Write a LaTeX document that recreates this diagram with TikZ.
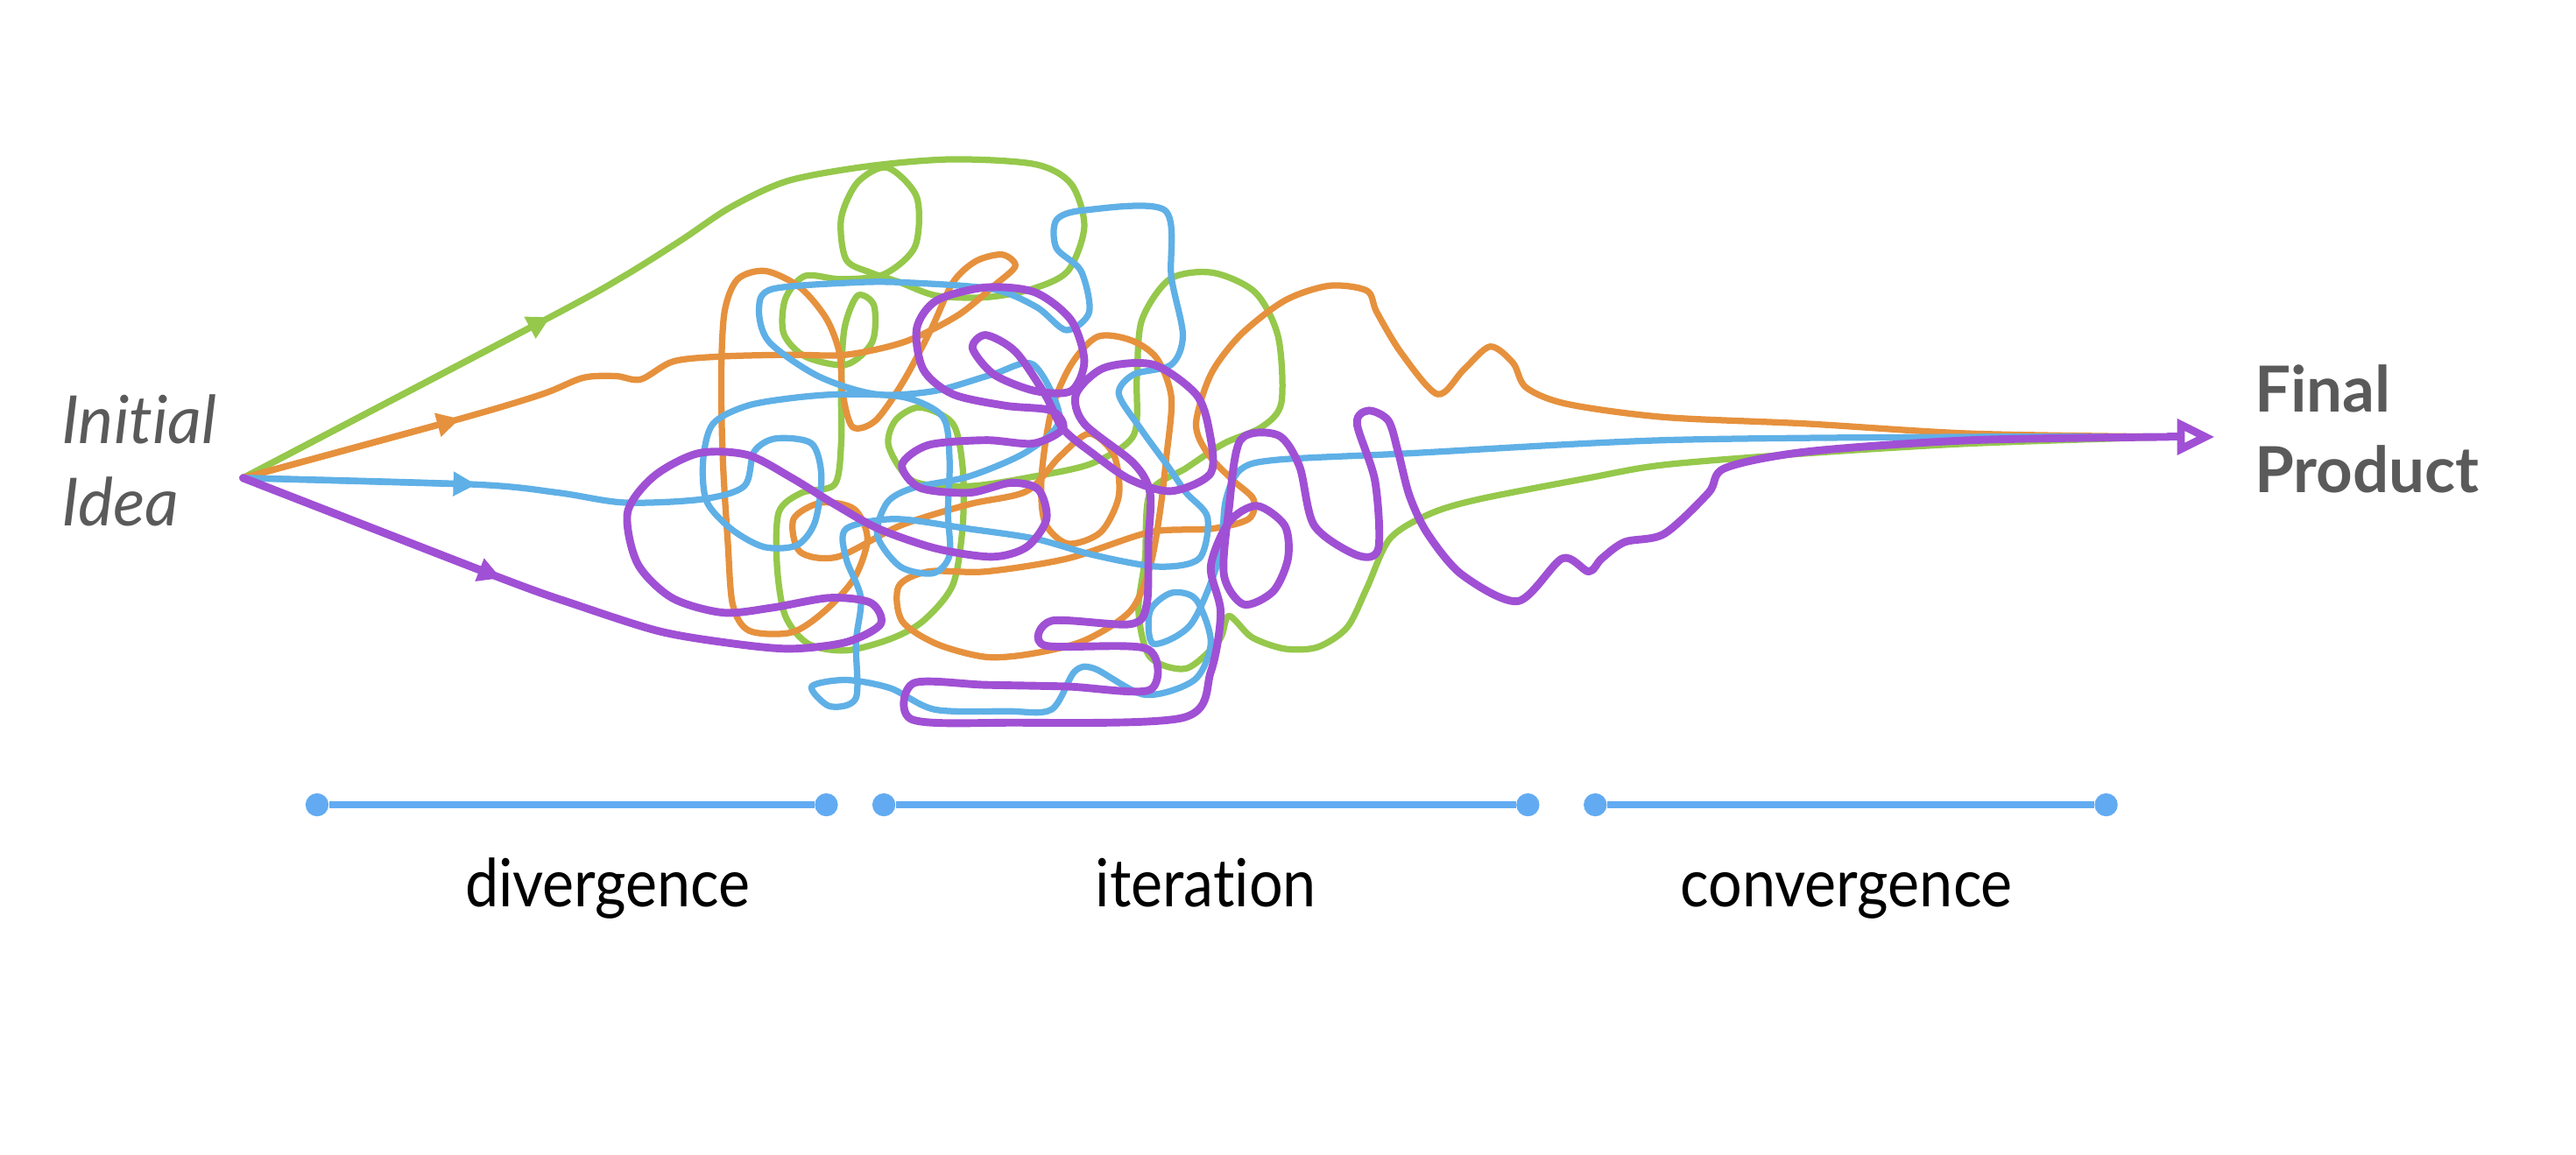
\documentclass[tikz,border=0pt]{standalone}
\usepackage{fontspec}
\setmainfont{Lato}[Ligatures=NoCommon]
\newfontfamily\narrowfont{Lato}[FakeStretch=0.9, Ligatures=NoCommon]
\usetikzlibrary{arrows.meta}
\definecolor{scribgreen}{HTML}{95C84B}
\definecolor{scriborange}{HTML}{E6913D}
\definecolor{scribblue}{HTML}{5FB0E6}
\definecolor{scribpurple}{HTML}{A050D4}
\definecolor{phaseblue}{HTML}{62ABF2}
\definecolor{labelgray}{HTML}{5A5A5A}
\begin{document}
\begin{tikzpicture}[x=0.02cm,y=-0.02cm,
    scribble/.style={line width=2.2pt, line cap=round, line join=round},
    thickscribble/.style={line width=2.7pt, line cap=round, line join=round},
    legtip/.style={-{Triangle[length=8pt,width=8pt]}},
    dot/.style={circle, fill=phaseblue, inner sep=0pt, minimum size=8pt},
    phaseline/.style={draw=phaseblue, line width=2.3pt},
    phaselabel/.style={font=\narrowfont\fontsize{23}{26}\selectfont, anchor=base},
    startlabel/.style={font=\itshape\fontsize{23}{26}\selectfont, text=labelgray, anchor=base west, inner sep=0pt},
    endlabel/.style={font=\bfseries\fontsize{22}{26}\selectfont, text=labelgray, anchor=base west, inner sep=0pt}]
  \useasboundingbox (0,0) rectangle (1568,703);

  \coordinate (idea) at (148,291);
  \coordinate (merge) at (1320,266);
  \coordinate (product) at (1348,266);

  \node[startlabel] (initial) at (37,270) {Initial};
  \node[startlabel] (ideaword) at (37,320) {Idea};
  \node[endlabel] (final) at (1372,251) {Final};
  \node[endlabel] (productword) at (1372,300) {Product};

  % green
  \draw[scribble, scribgreen] plot[smooth] coordinates {(idea) (335,193) (380,168) (415,146) (445,126)
    (480,110) (530,101) (580,97) (630,100) (652,112) (660,138) (650,165) (628,176) (600,181) (570,180)
    (548,172) (530,166) (515,158) (512,133) (522,111) (540,102) (558,120) (557,150) (538,167) (512,170)
    (490,168) (478,182) (477,203) (490,217) (515,222) (531,208) (532,186) (522,180) (514,200) (512,235)
    (512,270) (508,295) (488,300) (474,312) (473,345) (478,375) (492,392) (515,396) (542,389) (562,378)
    (580,356) (586,320) (586,285) (580,258) (560,248) (545,256) (541,272) (556,293) (590,296) (630,290)
    (665,282) (690,265) (692,230) (695,195) (712,170) (738,166) (764,178) (778,205) (780,245) (768,260)
    (745,270) (722,285) (700,300) (697,340) (693,372) (700,400) (722,407) (742,390) (748,375) (762,388)
    (782,395) (802,394) (820,382) (832,358) (846,328) (870,313) (900,304) (967,291) (1013,283)
    (1100,276) (1200,270) (merge)};
  \draw[scribble, scribgreen, legtip] (idea) -- (335,193);

  % orange
  \draw[scribble, scriborange] plot[smooth] coordinates {(idea) (280,255) (330,240) (355,230) (375,229)
    (390,231) (410,220) (440,217) (480,216) (515,216) (551,208) (583,192) (605,174) (618,162) (610,155)
    (594,159) (580,172) (567,200) (550,232) (533,256) (519,260) (513,240) (511,215) (503,194) (487,175)
    (466,165) (449,170) (441,190) (439,230) (440,280) (443,330) (446,368) (456,384) (482,385) (502,372)
    (520,352) (528,328) (520,310) (500,306) (483,316) (487,336) (510,339) (548,320) (590,307) (625,299)
    (645,278) (663,264) (678,277) (681,302) (670,324) (650,331) (636,318) (634,290) (640,250) (652,222)
    (668,205) (688,207) (704,218) (713,242) (710,278) (706,312) (700,345) (688,372) (660,390) (628,398)
    (600,400) (570,392) (549,378) (547,357) (565,348) (600,348) (650,340) (700,324) (737,322) (760,316)
    (763,304) (750,292) (735,276) (728,258) (737,228) (755,204) (782,183) (809,174) (832,177) (838,190)
    (853,215) (875,240) (891,225) (907,211) (921,221) (929,236) (954,246) (1013,254) (1100,258)
    (1200,264) (merge)};
  \draw[scribble, scriborange, legtip] (idea) -- (280,255);

  % blue
  \draw[scribble, scribblue] plot[smooth] coordinates {(idea) (290,295) (340,300) (380,306) (427,304)
    (453,296) (459,275) (472,267) (494,270) (500,290) (496,318) (485,332) (465,333) (445,322) (430,305)
    (428,280) (434,258) (455,247) (485,242) (515,240) (551,242) (574,254) (578,280) (577,312) (578,338)
    (568,349) (548,345) (534,326) (540,306) (556,297) (590,290) (625,275) (645,255) (629,222) (604,228)
    (569,238) (533,240) (498,229) (468,208) (462,188) (470,176) (520,172) (551,172) (604,176) (631,187)
    (649,201) (663,190) (658,165) (643,151) (643,134) (660,128) (709,128) (713,169) (720,204) (713,222)
    (690,228) (681,240) (695,262) (711,284) (722,300) (735,315) (730,340) (705,345) (666,338) (630,328)
    (590,322) (545,316) (515,322) (515,340) (524,364) (521,391) (521,425) (505,430) (494,418) (515,414)
    (542,419) (569,432) (613,433) (640,432) (654,409) (666,407) (697,423) (727,414) (737,391) (728,365)
    (713,361) (700,372) (702,392) (725,380) (742,340) (746,305) (755,286) (777,280) (858,276)
    (1013,268) (1200,266) (merge)};
  \draw[scribble, scribblue, legtip] (idea) -- (290,295);

  % purple
  \draw[thickscribble, scribpurple] plot[smooth] coordinates {(idea) (305,352) (350,368) (400,384)
    (440,391) (480,395) (515,391) (536,380) (530,367) (505,364) (470,370) (440,373) (409,364) (388,343)
    (382,312) (398,290) (425,276) (455,277) (482,291) (508,307) (535,322) (570,334) (604,339) (625,333)
    (637,316) (632,298) (615,294) (590,300) (560,297) (549,283) (565,271) (600,268) (629,270) (647,261)
    (640,250) (612,247) (580,240) (562,225) (558,200) (570,183) (600,175) (630,178) (652,195) (660,220)
    (652,238) (630,238) (605,228) (592,212) (600,204) (618,214) (636,240) (647,261) (665,276) (688,292)
    (713,299) (737,288) (736,262) (728,240) (702,222) (672,224) (655,240) (660,258) (690,282) (700,300)
    (699,330) (698,368) (688,380) (640,378) (636,393) (698,395) (700,420) (650,418) (600,417) (556,416)
    (555,438) (613,440) (720,437) (737,409) (743,373) (737,345) (748,318) (765,308) (782,320) (784,340)
    (775,360) (757,368) (745,350) (748,310) (755,268) (778,265) (791,284) (800,320) (826,338) (839,334)
    (837,293) (826,258) (833,250) (845,256) (851,275) (858,302) (869,325) (890,350) (924,366) (951,340)
    (967,348) (975,340) (989,330) (1013,325) (1040,300) (1050,285) (1100,275) (1200,268) (merge)};
  \draw[thickscribble, scribpurple, legtip] (idea) -- (305,352);
  \draw[thickscribble, scribpurple, -{Triangle[open,length=13pt,width=12pt]}] (merge) -- (product);

  % phases
  \node[dot] (d1) at (193,490) {};
  \node[dot] (d2) at (503,490) {};
  \node[dot] (i1) at (538,490) {};
  \node[dot] (i2) at (930,490) {};
  \node[dot] (c1) at (971,490) {};
  \node[dot] (c2) at (1282,490) {};
  \draw[phaseline] (d1) -- (d2);
  \draw[phaseline] (i1) -- (i2);
  \draw[phaseline] (c1) -- (c2);
  \node[phaselabel] (divergence) at (370,552) {divergence};
  \node[phaselabel] (iteration) at (734,552) {iteration};
  \node[phaselabel] (convergence) at (1124,552) {convergence};
\end{tikzpicture}
\end{document}
